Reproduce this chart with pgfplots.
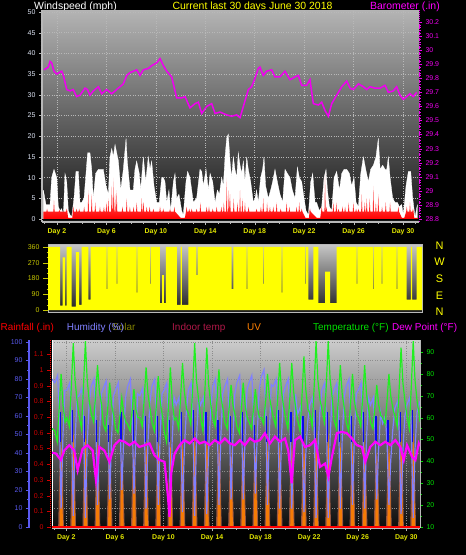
\documentclass[border=0pt]{standalone}
\usepackage{pgfplots}
\pgfplotsset{compat=1.18}
\usepackage{fontspec}
\setmainfont{Liberation Sans}
\definecolor{bgAtop}{HTML}{B4B4B4}
\definecolor{bgAbot}{HTML}{141414}
\definecolor{bgBtop}{HTML}{C8C8C8}
\definecolor{bgBbot}{HTML}{1C1C1C}
\definecolor{bgCtop}{HTML}{CCCCCC}
\definecolor{bgCbot}{HTML}{0C0C0C}
\definecolor{gridgray}{HTML}{B8B8B8}
\definecolor{gridgrayC}{HTML}{8C8C8C}
\definecolor{axisgray}{HTML}{B8B8B8}
\definecolor{windtick}{HTML}{DDE4F4}
\definecolor{dayyellow}{HTML}{E0E400}
\definecolor{baromag}{HTML}{F000F0}
\definecolor{diryellow}{HTML}{FFFF00}
\definecolor{dirlabel}{HTML}{C8C800}
\definecolor{humcol}{HTML}{8080FF}
\definecolor{humaxis}{HTML}{5A5AF0}
\definecolor{bluecol}{HTML}{0808F0}
\definecolor{raincol}{HTML}{FF0000}
\definecolor{rainlabel}{HTML}{D00000}
\definecolor{tempgreen}{HTML}{20F020}
\definecolor{templabel}{HTML}{00E000}
\definecolor{dewmag}{HTML}{FF00FF}
\definecolor{uvorange}{HTML}{FF8000}
\definecolor{solarbrown}{HTML}{B06048}
\definecolor{solartext}{HTML}{808000}
\definecolor{indoortext}{HTML}{B01848}
\pgfplotsset{
  base/.style={scale only axis, anchor=north west,
    /pgf/number format/assume math mode=true,
    tick label style={font=\fontsize{7}{8}\selectfont},
    tick align=outside, major tick length=3bp, minor tick length=1.5bp},
  daylbl/.style={xtick={2,6,10,14,18,22,26,30},
    xticklabels={Day 2,Day 6,Day 10,Day 14,Day 18,Day 22,Day 26,Day 30},
    minor xtick={1,2,...,31},
    xticklabel style={font=\fontsize{7}{8}\selectfont\bfseries, text=dayyellow}},
}
\begin{document}
\begin{tikzpicture}
\useasboundingbox (0,0) rectangle (466bp,-555bp);
\fill[black] (0,0) rectangle (466bp,-555bp);
% ---------------- titles
\node[anchor=base west, inner sep=0, text=white, font=\fontsize{10.5}{12}\selectfont] at (34bp,-9.5bp) {Windspeed (mph)};
\node[anchor=base, inner sep=0, text=diryellow, font=\fontsize{10.5}{12}\selectfont] at (252.5bp,-9.5bp) {Current last 30 days June 30 2018};
\node[anchor=base east, inner sep=0, text=dewmag, font=\fontsize{10.5}{12}\selectfont] at (440bp,-9.5bp) {Barometer (.in)};
% ---------------- panel 1 : wind speed
\begin{axis}[base, daylbl, at={(42bp,-10bp)}, width=377bp, height=212bp,
  xmin=0.79, xmax=31.29, ymin=-0.72, ymax=50.48,
  axis background/.style={top color=bgAtop, bottom color=bgAbot},
  axis x line*=bottom, axis y line*=left,
  axis line style={draw=axisgray, line width=1.2pt},
  ytick={0,5,...,50}, minor y tick num=4,
  yticklabel style={text=windtick},
  tick style={draw=axisgray},
  grid=major, major grid style={dotted, line width=0.5pt, gridgray}]
\addplot[fill=white, draw=white, line width=0.3pt] coordinates {
(0.90,0)(0.90,7)(1.11,3.5)(1.44,3.5)(1.57,10)(1.76,12)(1.98,10)(2.11,3)(2.25,2)(2.38,2.5)(2.52,0.8)(2.65,11)(2.79,9)(2.92,2)(3.06,1)(3.19,0.5)(3.38,5)(3.54,11.5)(3.73,11.5)(3.86,4)(4.00,4)(4.19,5)(4.35,11)(4.48,16)(4.67,16)(4.81,12)(4.94,5)(5.13,11)(5.35,12)(5.56,12)(5.75,12)(5.97,8)(6.16,6)(6.29,15)(6.43,17)(6.56,15)(6.70,18)(6.83,16)(6.97,14)(7.16,7)(7.37,12)(7.59,19.5)(7.69,14)(7.91,7)(8.18,7)(8.31,12)(8.45,14)(8.66,11)(8.77,7)(8.99,15)(9.18,9)(9.39,15)(9.53,12)(9.66,14)(9.85,8)(10.07,4)(10.28,4)(10.47,10)(10.61,10)(10.74,9)(10.88,4)(11.06,7)(11.20,2)(11.42,9)(11.55,11)(11.69,5)(11.87,6)(12.09,2)(12.22,1)(12.44,9)(12.57,11.5)(12.76,10)(12.90,7)(13.03,4)(13.30,5)(13.57,12)(13.71,11.5)(13.84,8)(14.06,12)(14.25,7)(14.39,11)(14.60,9)(14.79,4)(14.98,7)(15.14,6)(15.33,10)(15.46,8)(15.60,15)(15.73,19.5)(15.86,20.5)(16.00,14)(16.13,10)(16.27,15)(16.40,12)(16.54,10)(16.67,16)(16.81,13)(16.94,11)(17.08,14)(17.21,9)(17.35,15)(17.48,12)(17.67,9)(17.89,4)(18.02,5)(18.15,7)(18.29,4)(18.48,10)(18.64,12)(18.75,15)(18.88,8)(19.10,5)(19.29,7)(19.45,9)(19.64,12)(19.83,9)(20.04,6)(20.26,4)(20.45,12)(20.64,11)(20.85,10)(21.04,7)(21.26,5)(21.45,12.5)(21.61,10)(21.80,9)(21.99,5)(22.15,2)(22.34,1)(22.53,9)(22.69,11)(22.88,4)(23.01,4)(23.23,2)(23.42,3)(23.61,10)(23.77,12)(23.88,7)(24.04,3)(24.23,2)(24.42,10)(24.63,11.5)(24.85,7)(25.04,11)(25.23,12)(25.44,12)(25.66,11)(25.84,8)(26.03,10)(26.20,4)(26.39,3)(26.58,11)(26.79,15)(26.98,12)(27.19,9)(27.38,12)(27.60,13)(27.81,15)(28.00,19.5)(28.14,12)(28.35,13)(28.54,12)(28.68,12)(28.81,15)(28.95,10)(29.16,5)(29.35,4)(29.54,4)(29.70,3)(29.89,3.5)(30.02,1)(30.24,8)(30.43,11.5)(30.62,11.5)(30.78,5)(30.97,0.5)(31.16,3.5)(31.16,0)};
\addplot[draw=none, top color=red!30!white, bottom color=raincol] coordinates {
(0.90,0)(0.90,1.8)
(1.15,1.8)(1.20,2.5)(1.25,1.8)
(1.71,1.8)(1.76,4.5)(1.81,1.8)
(2.15,1.8)(2.20,2.2)(2.25,1.8)
(2.74,1.8)(2.79,2.5)(2.84,1.8)
(2.90,0.3)(3.25,0.3)
(3.27,1.8)(3.32,3)(3.37,1.8)
(3.54,1.8)(3.59,2.5)(3.64,1.8)
(3.75,1.8)(3.80,2.5)(3.85,1.8)
(4.15,1.8)(4.20,3)(4.25,1.8)
(4.49,1.8)(4.54,7)(4.59,1.8)
(4.76,1.8)(4.81,6)(4.86,1.8)
(5.05,1.8)(5.10,4)(5.15,1.8)
(5.43,1.8)(5.48,3)(5.53,1.8)
(5.75,1.8)(5.80,3)(5.85,1.8)
(5.95,1.8)(6.00,4)(6.05,1.8)
(6.11,1.8)(6.16,5)(6.21,1.8)
(6.38,1.8)(6.43,8)(6.48,1.8)
(6.51,1.8)(6.56,10)(6.61,1.8)
(6.65,1.8)(6.70,6)(6.75,1.8)
(6.78,1.8)(6.83,7)(6.88,1.8)
(7.25,1.8)(7.30,3)(7.35,1.8)
(7.59,1.8)(7.64,5)(7.69,1.8)
(7.85,1.8)(7.90,3)(7.95,1.8)
(8.15,1.8)(8.20,3)(8.25,1.8)
(8.40,1.8)(8.45,4)(8.50,1.8)
(8.81,1.8)(8.86,5)(8.91,1.8)
(8.95,1.8)(9.00,4)(9.05,1.8)
(9.21,1.8)(9.26,3)(9.31,1.8)
(9.45,1.8)(9.50,3)(9.55,1.8)
(9.75,1.8)(9.80,2.5)(9.85,1.8)
(10.29,1.8)(10.34,3)(10.39,1.8)
(10.55,1.8)(10.60,2.5)(10.65,1.8)
(11.10,1.8)(11.15,2.5)(11.20,1.8)
(11.45,1.8)(11.50,3)(11.55,1.8)
(12.00,0.3)(12.35,0.3)
(12.44,1.8)(12.49,3)(12.54,1.8)
(12.65,1.8)(12.70,2.5)(12.75,1.8)
(12.85,1.8)(12.90,2.5)(12.95,1.8)
(13.25,1.8)(13.30,2.5)(13.35,1.8)
(13.55,1.8)(13.60,4)(13.65,1.8)
(14.06,1.8)(14.11,3)(14.16,1.8)
(14.25,1.8)(14.30,3)(14.35,1.8)
(14.55,1.8)(14.60,2.5)(14.65,1.8)
(14.87,1.8)(14.92,3)(14.97,1.8)
(15.25,1.8)(15.30,3)(15.35,1.8)
(15.45,1.8)(15.50,4)(15.55,1.8)
(15.68,1.8)(15.73,10)(15.78,1.8)
(15.85,1.8)(15.90,7)(15.95,1.8)
(15.95,1.8)(16.00,6)(16.05,1.8)
(16.25,1.8)(16.30,5)(16.35,1.8)
(16.55,1.8)(16.60,4)(16.65,1.8)
(16.76,1.8)(16.81,7)(16.86,1.8)
(16.95,1.8)(17.00,5)(17.05,1.8)
(17.16,1.8)(17.21,4)(17.26,1.8)
(17.45,1.8)(17.50,3)(17.55,1.8)
(18.10,1.8)(18.15,2.5)(18.20,1.8)
(18.45,1.8)(18.50,3)(18.55,1.8)
(18.64,1.8)(18.69,5)(18.74,1.8)
(18.95,1.8)(19.00,4)(19.05,1.8)
(19.18,1.8)(19.23,3)(19.28,1.8)
(19.45,1.8)(19.50,3)(19.55,1.8)
(19.72,1.8)(19.77,4)(19.82,1.8)
(20.05,1.8)(20.10,2.5)(20.15,1.8)
(20.53,1.8)(20.58,4)(20.63,1.8)
(20.75,1.8)(20.80,3)(20.85,1.8)
(21.34,1.8)(21.39,3)(21.44,1.8)
(21.55,1.8)(21.60,4)(21.65,1.8)
(21.75,1.8)(21.80,2.5)(21.85,1.8)
(22.10,0.3)(22.40,0.3)
(22.42,1.8)(22.47,2.5)(22.52,1.8)
(23.00,0.3)(23.30,0.3)
(23.37,1.8)(23.42,3)(23.47,1.8)
(23.64,1.8)(23.69,11)(23.74,1.8)
(23.75,1.8)(23.80,3)(23.85,1.8)
(24.31,1.8)(24.36,4)(24.41,1.8)
(24.55,1.8)(24.60,4)(24.65,1.8)
(24.72,1.8)(24.77,2.5)(24.82,1.8)
(25.05,1.8)(25.10,3)(25.15,1.8)
(25.26,1.8)(25.31,3)(25.36,1.8)
(25.55,1.8)(25.60,4)(25.65,1.8)
(25.93,1.8)(25.98,4)(26.03,1.8)
(26.15,1.8)(26.20,2.5)(26.25,1.8)
(26.34,1.8)(26.39,2.5)(26.44,1.8)
(26.61,1.8)(26.66,6)(26.71,1.8)
(26.85,1.8)(26.90,4)(26.95,1.8)
(27.01,1.8)(27.06,5)(27.11,1.8)
(27.25,1.8)(27.30,5)(27.35,1.8)
(27.55,1.8)(27.60,8)(27.65,1.8)
(27.75,1.8)(27.80,4)(27.85,1.8)
(27.95,1.8)(28.00,6)(28.05,1.8)
(28.25,1.8)(28.30,3)(28.35,1.8)
(28.55,1.8)(28.60,4)(28.65,1.8)
(28.90,1.8)(28.95,4)(29.00,1.8)
(29.57,1.8)(29.62,3)(29.67,1.8)
(29.90,0.3)(30.10,0.3)
(30.25,1.8)(30.30,3)(30.35,1.8)
(30.51,1.8)(30.56,4)(30.61,1.8)
(30.75,1.8)(30.80,2.5)(30.85,1.8)
(30.90,0.3)(31.16,0.3)(31.16,0)};
\addplot[black, line width=1pt] coordinates {(0.79,0)(31.29,0)};
\end{axis}
\begin{axis}[base, at={(42bp,-10bp)}, width=377bp, height=212bp,
  xmin=0.79, xmax=31.29, ymin=28.779, ymax=30.285,
  axis x line=none, axis y line*=right,
  y axis line style={draw=baromag, densely dotted, line width=1pt},
  ytick={28.8,28.9,29.0,29.1,29.2,29.3,29.4,29.5,29.6,29.7,29.8,29.9,30.0,30.1,30.2},
  yticklabels={28.8,28.9,29,29.1,29.2,29.3,29.4,29.5,29.6,29.7,29.8,29.9,30,30.1,30.2},
  minor y tick num=4,
  yticklabel style={text=baromag},
  tick style={draw=baromag}]
\addplot[baromag, line width=1.5pt] coordinates {
(0.95,29.86)(1.30,29.88)(1.44,29.92)(1.57,29.91)(1.76,29.85)(1.98,29.83)(2.38,29.85)(2.52,29.82)(2.79,29.72)(3.06,29.71)(3.32,29.72)(3.59,29.67)(3.86,29.68)(4.27,29.73)(4.46,29.72)(4.67,29.68)(4.94,29.71)(5.35,29.74)(5.62,29.69)(6.02,29.72)(6.43,29.69)(6.83,29.72)(7.10,29.74)(7.37,29.76)(7.64,29.82)(7.91,29.84)(8.18,29.85)(8.45,29.86)(8.72,29.82)(8.99,29.86)(9.40,29.87)(9.67,29.89)(10.07,29.91)(10.34,29.94)(10.61,29.89)(10.88,29.85)(11.28,29.81)(11.69,29.66)(12.09,29.66)(12.36,29.67)(12.76,29.59)(13.17,29.62)(13.44,29.63)(13.71,29.55)(14.11,29.60)(14.52,29.62)(14.79,29.55)(15.19,29.56)(15.73,29.54)(16.13,29.53)(16.54,29.54)(16.81,29.52)(17.08,29.60)(17.48,29.72)(17.75,29.74)(18.02,29.80)(18.29,29.87)(18.42,29.88)(18.69,29.82)(18.96,29.85)(19.37,29.86)(19.64,29.81)(20.04,29.81)(20.45,29.85)(20.85,29.79)(21.26,29.81)(21.53,29.82)(21.80,29.75)(22.20,29.75)(22.47,29.79)(22.74,29.62)(23.15,29.61)(23.42,29.63)(23.69,29.57)(23.96,29.53)(24.23,29.62)(24.63,29.68)(25.04,29.74)(25.44,29.78)(25.71,29.73)(25.98,29.72)(26.39,29.76)(26.79,29.74)(27.06,29.72)(27.33,29.74)(27.73,29.73)(28.14,29.73)(28.54,29.75)(28.81,29.70)(29.21,29.71)(29.48,29.74)(29.75,29.68)(30.02,29.65)(30.29,29.67)(30.56,29.69)(30.83,29.67)(31.10,29.70)};
\end{axis}
% ---------------- panel 2 : wind direction
\begin{axis}[base, at={(48bp,-244bp)}, width=374bp, height=68bp,
  xmin=0.8, xmax=31.3, ymin=-11, ymax=377,
  axis background/.style={top color=bgBtop, bottom color=bgBbot},
  axis line style={draw=axisgray, line width=1pt},
  xtick=\empty, ytick={0,90,180,270,360}, minor y tick num=2,
  major tick length=5bp,
  ytick pos=left,
  yticklabel style={text=dirlabel},
  tick style={draw=dirlabel}]
\addplot[const plot mark left, fill=diryellow, draw=none] coordinates {
(0.80,0)(0.80,360)(1.78,25)(2.00,300)(2.19,25)(2.32,360)(2.73,20)(3.08,330)(3.33,30)(3.55,360)(4.09,60)(4.28,360)(5.59,120)(5.65,360)(6.40,150)(6.46,360)(8.03,100)(8.09,360)(9.12,150)(9.18,360)(9.93,40)(10.10,200)(10.25,40)(10.42,360)(11.30,30)(11.62,360)(11.72,30)(12.24,360)(12.90,200)(13.00,360)(15.78,120)(15.91,360)(17.00,120)(17.06,360)(18.36,150)(18.42,360)(19.86,100)(19.92,360)(21.76,150)(21.82,360)(22.03,60)(22.44,360)(22.84,40)(23.40,220)(23.80,40)(24.34,360)(25.97,150)(26.03,360)(27.33,120)(27.39,360)(28.01,150)(28.07,360)(29.24,120)(29.30,360)(30.05,60)(30.40,360)(30.50,60)(30.87,360)(31.30,360)(31.30,0)};
\end{axis}
\foreach \l/\yy in {N/249,W/265.7,S/282.3,E/299,N/315}{
  \node[anchor=base, inner sep=0, text=diryellow, font=\fontsize{11}{12}\selectfont] at (439.5bp,-\yy bp) {\l};
}
% ---------------- legend row
\begin{scope}[every node/.style={anchor=base west, inner sep=0, font=\fontsize{10}{12}\selectfont}]
\node[text=raincol] at (0.5bp,-330.5bp) {Rainfall (.in)};
\node[text=solartext] at (112bp,-330.5bp) {Solar};
\node[text=humcol] at (66.7bp,-330.5bp) {Humidity (\%)};
\node[text=indoortext] at (172bp,-330.5bp) {Indoor temp};
\node[text=uvorange] at (247bp,-330.5bp) {UV};
\node[text=templabel] at (313bp,-330.5bp) {Temperature (°F)};
\node[text=dewmag] at (392bp,-330.5bp) {Dew Point (°F)};
\end{scope}
% ---------------- panel 3 : background, grid, day axis
\begin{axis}[base, daylbl, at={(52bp,-340bp)}, width=368bp, height=188bp,
  xmin=0.82, xmax=31.13, ymin=-0.54, ymax=101.1,
  axis background/.style={top color=bgCtop, bottom color=bgCbot},
  axis x line*=bottom, axis y line*=left,
  x axis line style={draw=axisgray, line width=2pt},
  y axis line style={draw=white, line width=1pt},
  ytick={0,10,...,100}, yticklabels={}, ytick style={draw=none},
  xtick style={draw=axisgray},
  grid=major, major grid style={dotted, line width=0.4pt, gridgrayC}]
\addplot[draw=none] coordinates {(1,0)};
\end{axis}
% solar
\begin{axis}[base, at={(52bp,-340bp)}, width=368bp, height=188bp,
  xmin=0.82, xmax=31.13, ymin=-12, ymax=2280, hide axis]
\addplot[fill=solarbrown, draw=none, fill opacity=0.85] coordinates {
(1.33,0)(1.45,850)(1.56,1000)(1.68,800)(1.80,0)
(2.33,0)(2.45,890)(2.56,1050)(2.68,840)(2.80,0)
(3.33,0)(3.45,890)(3.56,1050)(3.68,840)(3.80,0)
(4.33,0)(4.45,830)(4.56,980)(4.68,780)(4.80,0)
(5.33,0)(5.45,760)(5.56,900)(5.68,720)(5.80,0)
(6.33,0)(6.45,720)(6.56,850)(6.68,680)(6.80,0)
(7.33,0)(7.45,760)(7.56,900)(7.68,720)(7.80,0)
(8.33,0)(8.45,850)(8.56,1000)(8.68,800)(8.80,0)
(9.33,0)(9.45,810)(9.56,950)(9.68,760)(9.80,0)
(10.33,0)(10.45,830)(10.56,980)(10.68,780)(10.80,0)
(11.33,0)(11.45,850)(11.56,1000)(11.68,800)(11.80,0)
(12.33,0)(12.45,890)(12.56,1050)(12.68,840)(12.80,0)
(13.33,0)(13.45,890)(13.56,1050)(13.68,840)(13.80,0)
(14.33,0)(14.45,830)(14.56,980)(14.68,780)(14.80,0)
(15.33,0)(15.45,760)(15.56,900)(15.68,720)(15.80,0)
(16.33,0)(16.45,780)(16.56,920)(16.68,740)(16.80,0)
(17.33,0)(17.45,750)(17.56,880)(17.68,700)(17.80,0)
(18.33,0)(18.45,810)(18.56,950)(18.68,760)(18.80,0)
(19.33,0)(19.45,850)(19.56,1000)(19.68,800)(19.80,0)
(20.33,0)(20.45,850)(20.56,1000)(20.68,800)(20.80,0)
(21.33,0)(21.45,870)(21.56,1020)(21.68,820)(21.80,0)
(22.33,0)(22.45,890)(22.56,1050)(22.68,840)(22.80,0)
(23.33,0)(23.45,890)(23.56,1050)(23.68,840)(23.80,0)
(24.33,0)(24.45,850)(24.56,1000)(24.68,800)(24.80,0)
(25.33,0)(25.45,810)(25.56,950)(25.68,760)(25.80,0)
(26.33,0)(26.45,850)(26.56,1000)(26.68,800)(26.80,0)
(27.33,0)(27.45,760)(27.56,900)(27.68,720)(27.80,0)
(28.33,0)(28.45,810)(28.56,950)(28.68,760)(28.80,0)
(29.33,0)(29.45,890)(29.56,1050)(29.68,840)(29.80,0)
(30.33,0)(30.45,890)(30.56,1050)(30.68,840)(30.80,0)};
\end{axis}
% UV
\begin{axis}[base, at={(52bp,-340bp)}, width=368bp, height=188bp,
  xmin=0.82, xmax=31.13, ymin=-0.115, ymax=21.5, hide axis]
\addplot[fill=uvorange, draw=none, fill opacity=0.9] coordinates {
(1.44,0)(1.51,7)(1.58,10)(1.65,7)(1.72,0)
(2.44,0)(2.51,8)(2.58,11)(2.65,8)(2.72,0)
(3.44,0)(3.51,8)(3.58,11)(3.65,8)(3.72,0)
(4.44,0)(4.51,7)(4.58,10)(4.65,7)(4.72,0)
(5.44,0)(5.51,6)(5.58,9)(5.65,6)(5.72,0)
(6.44,0)(6.51,6)(6.58,8)(6.65,6)(6.72,0)
(7.44,0)(7.51,6)(7.58,9)(7.65,6)(7.72,0)
(8.44,0)(8.51,7)(8.58,10)(8.65,7)(8.72,0)
(9.44,0)(9.51,7)(9.58,10)(9.65,7)(9.72,0)
(10.44,0)(10.51,7)(10.58,10)(10.65,7)(10.72,0)
(11.44,0)(11.51,7)(11.58,10)(11.65,7)(11.72,0)
(12.44,0)(12.51,8)(12.58,11)(12.65,8)(12.72,0)
(13.44,0)(13.51,8)(13.58,11)(13.65,8)(13.72,0)
(14.44,0)(14.51,7)(14.58,10)(14.65,7)(14.72,0)
(15.44,0)(15.51,6)(15.58,9)(15.65,6)(15.72,0)
(16.44,0)(16.51,6)(16.58,9)(16.65,6)(16.72,0)
(17.44,0)(17.51,6)(17.58,9)(17.65,6)(17.72,0)
(18.44,0)(18.51,7)(18.58,10)(18.65,7)(18.72,0)
(19.44,0)(19.51,7)(19.58,10)(19.65,7)(19.72,0)
(20.44,0)(20.51,7)(20.58,10)(20.65,7)(20.72,0)
(21.44,0)(21.51,7)(21.58,10)(21.65,7)(21.72,0)
(22.44,0)(22.51,8)(22.58,11)(22.65,8)(22.72,0)
(23.44,0)(23.51,8)(23.58,11)(23.65,8)(23.72,0)
(24.44,0)(24.51,7)(24.58,10)(24.65,7)(24.72,0)
(25.44,0)(25.51,7)(25.58,10)(25.65,7)(25.72,0)
(26.44,0)(26.51,7)(26.58,10)(26.65,7)(26.72,0)
(27.44,0)(27.51,6)(27.58,9)(27.65,6)(27.72,0)
(28.44,0)(28.51,7)(28.58,10)(28.65,7)(28.72,0)
(29.44,0)(29.51,8)(29.58,11)(29.65,8)(29.72,0)
(30.44,0)(30.51,8)(30.58,11)(30.65,8)(30.72,0)};
\end{axis}
% humidity data
\begin{axis}[base, at={(52bp,-340bp)}, width=368bp, height=188bp,
  xmin=0.82, xmax=31.13, ymin=-0.54, ymax=101.1, hide axis,
  unbounded coords=jump]
\addplot[humcol, line width=1.2pt] coordinates {
(0.82,80)(1.05,78)(1.28,82)(1.42,62)(1.57,10)(1.72,49)(1.88,74)
(2.05,74)(2.28,78)(2.42,59)(2.57,6)(2.72,47)(2.88,70)
(3.05,71)(3.28,75)(3.42,56)(3.57,5)(3.72,45)(3.88,67)
(4.05,76)(4.28,80)(4.42,60)(4.57,12)(4.72,48)(4.88,72)
(5.05,75)(5.28,79)(5.42,59)(5.57,15)(5.72,47)(5.88,71)
(6.05,74)(6.28,78)(6.42,59)(6.57,20)(6.72,47)(6.88,70)
(7.05,76)(7.28,80)(7.42,60)(7.57,18)(7.72,48)(7.88,72)
(8.05,71)(8.28,75)(8.42,56)(8.57,10)(8.72,45)(8.88,67)
(9.05,76)(9.28,80)(9.42,60)(9.57,12)(9.72,48)(9.88,72)
(10.05,74)(10.28,78)(10.42,59)(10.57,10)(10.72,47)(10.88,70)
(11.05,66)(11.28,70)(11.42,53)(11.57,8)(11.72,42)(11.88,62)
(12.05,74)(12.28,78)(12.42,59)(12.57,6)(12.72,47)(12.88,70)
(13.05,66)(13.28,70)(13.42,53)(13.57,7)(13.72,42)(13.88,62)
(14.05,76)(14.28,80)(14.42,60)(14.57,12)(14.72,48)(14.88,72)
(15.05,76)(15.28,80)(15.42,60)(15.57,15)(15.72,48)(15.88,72)
(16.05,78)(16.28,82)(16.42,62)(16.57,15)(16.72,49)(16.88,74)
(17.05,78)(17.28,82)(17.42,62)(17.57,18)(17.72,49)(17.88,74)
(18.05,81)(18.28,85)(18.42,64)(18.57,12)(18.72,51)(18.88,77)
(19.05,76)(19.28,80)(19.42,60)(19.57,10)(19.72,48)(19.88,72)
(20.05,76)(20.28,80)(20.42,60)(20.57,10)(20.72,48)(20.88,72)
(21.05,61)(21.28,65)(21.42,49)(21.57,8)(21.72,39)(21.88,57)
(22.05,66)(22.28,70)(22.42,53)(22.57,5)(22.72,42)(22.88,62)
(23.05,74)(23.28,78)(23.42,59)(23.57,5)(23.72,47)(23.88,70)
(24.05,74)(24.28,78)(24.42,59)(24.57,10)(24.72,47)(24.88,70)
(25.05,76)(25.28,80)(25.42,60)(25.57,12)(25.72,48)(25.88,72)
(26.05,74)(26.28,78)(26.42,59)(26.57,10)(26.72,47)(26.88,70)
(27.05,66)(27.28,70)(27.42,53)(27.57,15)(27.72,42)(27.88,62)
(28.05,56)(28.28,60)(28.42,45)(28.57,12)(28.72,36)(28.88,52)
(29.05,64)(29.28,68)(29.42,51)(29.57,7)(29.72,41)(29.88,60)
(30.05,66)(30.28,70)(30.42,53)(30.57,5)(30.72,42)(30.88,62)
(31.05,66)(31.13,68)};
\addplot[bluecol, line width=1.2pt] coordinates {
(1.5,46)(1.5,62)(1.5,nan)(2.5,46)(2.5,63)(2.5,nan)(3.5,46)(3.5,60)(3.5,nan)(4.5,46)(4.5,58)(4.5,nan)(5.5,46)(5.5,55)(5.5,nan)
(6.5,46)(6.5,62)(6.5,nan)(7.5,46)(7.5,63)(7.5,nan)(8.5,46)(8.5,60)(8.5,nan)(9.5,46)(9.5,60)(9.5,nan)(10.5,46)(10.5,58)(10.5,nan)
(11.5,46)(11.5,62)(11.5,nan)(12.5,46)(12.5,63)(12.5,nan)(13.5,46)(13.5,62)(13.5,nan)(14.5,46)(14.5,58)(14.5,nan)(15.5,46)(15.5,60)(15.5,nan)
(16.5,46)(16.5,62)(16.5,nan)(17.5,46)(17.5,55)(17.5,nan)(18.5,46)(18.5,60)(18.5,nan)(19.5,46)(19.5,63)(19.5,nan)(20.5,46)(20.5,62)(20.5,nan)
(21.5,46)(21.5,60)(21.5,nan)(22.5,46)(22.5,63)(22.5,nan)(23.5,46)(23.5,62)(23.5,nan)(24.5,46)(24.5,58)(24.5,nan)(25.5,46)(25.5,60)(25.5,nan)
(26.5,46)(26.5,62)(26.5,nan)(27.5,46)(27.5,60)(27.5,nan)(28.5,46)(28.5,58)(28.5,nan)(29.5,46)(29.5,62)(29.5,nan)(30.5,46)(30.5,63)};
\end{axis}
% temperature and dew point
\begin{axis}[base, at={(52bp,-340bp)}, width=368bp, height=188bp,
  xmin=0.82, xmax=31.13, ymin=9.54, ymax=95.49,
  axis x line=none, axis y line*=right,
  y axis line style={draw=axisgray, line width=0.8pt},
  ytick={10,20,...,90}, minor y tick num=1,
  yticklabel style={text=templabel},
  tick style={draw=templabel}]
\addplot[tempgreen, line width=1.2pt] coordinates {
(0.82,55)(1.05,54)(1.25,49)(1.42,65)(1.57,80)(1.72,66)(1.9,58)
(2.05,60)(2.25,56)(2.42,75)(2.57,94)(2.72,77)(2.9,67)
(3.05,61)(3.25,55)(3.42,75)(3.57,95)(3.72,77)(3.9,67)
(4.05,62)(4.25,58)(4.42,71)(4.57,84)(4.72,72)(4.9,66)
(5.05,57)(5.25,54)(5.42,65)(5.57,76)(5.72,66)(5.9,61)
(6.05,55)(6.25,53)(6.42,61)(6.57,69)(6.72,62)(6.9,58)
(7.05,57)(7.25,54)(7.42,63)(7.57,73)(7.72,64)(7.9,60)
(8.05,60)(8.25,56)(8.42,69)(8.57,83)(8.72,71)(8.9,64)
(9.05,58)(9.25,54)(9.42,66)(9.57,79)(9.72,68)(9.9,61)
(10.05,54)(10.25,49)(10.42,66)(10.57,83)(10.72,68)(10.9,59)
(11.05,60)(11.25,55)(11.42,70)(11.57,85)(11.72,72)(11.9,64)
(12.05,62)(12.25,57)(12.42,75)(12.57,94)(12.72,77)(12.9,68)
(13.05,60)(13.25,54)(13.42,73)(13.57,92)(13.72,75)(13.9,66)
(14.05,60)(14.25,56)(14.42,69)(14.57,82)(14.72,70)(14.9,64)
(15.05,58)(15.25,55)(15.42,65)(15.57,75)(15.72,66)(15.9,61)
(16.05,56)(16.25,53)(16.42,64)(16.57,76)(16.72,66)(16.9,60)
(17.05,58)(17.25,55)(17.42,64)(17.57,73)(17.72,65)(17.9,60)
(18.05,60)(18.25,57)(18.42,68)(18.57,80)(18.72,70)(18.9,64)
(19.05,60)(19.25,56)(19.42,70)(19.57,85)(19.72,72)(19.9,65)
(20.05,60)(20.25,55)(20.42,70)(20.57,85)(20.72,72)(20.9,64)
(21.05,59)(21.25,54)(21.42,71)(21.57,88)(21.72,73)(21.9,64)
(22.05,62)(22.25,56)(22.42,75)(22.57,95)(22.72,77)(22.9,68)
(23.05,64)(23.25,58)(23.42,76)(23.57,95)(23.72,78)(23.9,69)
(24.05,59)(24.25,55)(24.42,70)(24.57,84)(24.72,71)(24.9,64)
(25.05,58)(25.25,54)(25.42,67)(25.57,80)(25.72,68)(25.9,62)
(26.05,60)(26.25,56)(26.42,70)(26.57,84)(26.72,71)(26.9,64)
(27.05,58)(27.25,55)(27.42,65)(27.57,75)(27.72,66)(27.9,61)
(28.05,60)(28.25,57)(28.42,68)(28.57,80)(28.72,70)(28.9,64)
(29.05,61)(29.25,56)(29.42,74)(29.57,92)(29.72,76)(29.9,67)
(30.05,61)(30.25,55)(30.42,75)(30.57,95)(30.72,77)(30.9,67)
(31.05,62)(31.13,58)};
\addplot[dewmag, line width=2.2pt] coordinates {
(0.82,44)(1.14,43.6)(1.55,40.6)(1.83,45)(2.24,47.4)(2.65,45)(2.93,36)(3.34,45.8)(3.75,47.4)(4.17,45)(4.44,31.5)(4.72,46.6)(5.13,45)(5.55,39.8)(5.96,47.4)(6.37,49.7)(6.79,49)(7.20,47.4)(7.61,49)(8.02,46.6)(8.44,47.4)(8.85,48.2)(9.26,42.8)(9.68,40.6)(10.09,39.8)(10.37,23.8)(10.50,14.7)(10.64,34.6)(10.92,43.6)(11.33,47.4)(11.74,49.7)(12.16,48.2)(12.57,50.5)(12.98,48.2)(13.40,49)(13.81,47.4)(14.22,49.7)(14.64,48.2)(15.05,50.5)(15.46,48.2)(15.88,47.4)(16.29,49.7)(16.70,47.4)(17.12,50.5)(17.53,49)(17.94,49.7)(18.36,52.9)(18.77,48.2)(19.18,51.3)(19.60,49)(20.01,50.5)(20.28,45)(20.56,30)(20.83,49.7)(21.25,51.3)(21.66,46.6)(22.07,47.4)(22.49,49.7)(22.90,37.5)(23.31,39)(23.59,33)(23.87,42)(24.28,52.9)(24.69,53.5)(25.10,52.9)(25.52,50.5)(25.93,47.4)(26.34,46.6)(26.62,39.8)(27.03,46.6)(27.45,49)(27.86,47.4)(28.27,49)(28.68,47.4)(29.10,49.7)(29.51,46.6)(29.79,40.6)(30.06,47.4)(30.48,42)(30.75,40.6)(31.03,48.2)(31.13,47)};
\end{axis}
% rainfall
\begin{axis}[base, at={(50bp,-340bp)}, width=370bp, height=188bp,
  xmin=0.655, xmax=31.13, ymin=-0.0064, ymax=1.191, clip=false,
  axis x line=none, axis y line*=left,
  y axis line style={draw=raincol, densely dotted, line width=1pt},
  ytick={0,0.1,0.2,0.3,0.4,0.5,0.6,0.7,0.8,0.9,1.0,1.1},
  yticklabels={0,0.1,0.2,0.3,0.4,0.5,0.6,0.7,0.8,0.9,1,1.1},
  yticklabel style={text=rainlabel},
  tick style={draw=rainlabel}]
\addplot[raincol, line width=1.8pt] coordinates {
(0.82,0)(1,0)(2,0)(3,0)(4,0)(5,0)(6,0)(7,0)(8,0)(9,0)(10,0)(11,0)(12,0)(13,0)(14,0)(15,0)(16,0)(17,0)(18,0)(19,0)(20,0)(21,0)(22,0)(23,0)(24,0)(25,0)(26,0)(27,0)(28,0)(29,0)(30,0)(31,0)(31.13,0)};
\end{axis}
% humidity scale
\begin{axis}[base, at={(29bp,-340bp)}, width=1bp, height=188bp,
  xmin=0, xmax=1, ymin=-0.54, ymax=101.1,
  axis x line=none, axis y line*=left,
  y axis line style={draw=humaxis, line width=1.5pt},
  ytick={0,10,...,100}, minor y tick num=1,
  yticklabel style={text=humaxis},
  tick style={draw=humaxis}]
\addplot[draw=none] coordinates {(0,0)};
\end{axis}
\end{tikzpicture}
\end{document}
